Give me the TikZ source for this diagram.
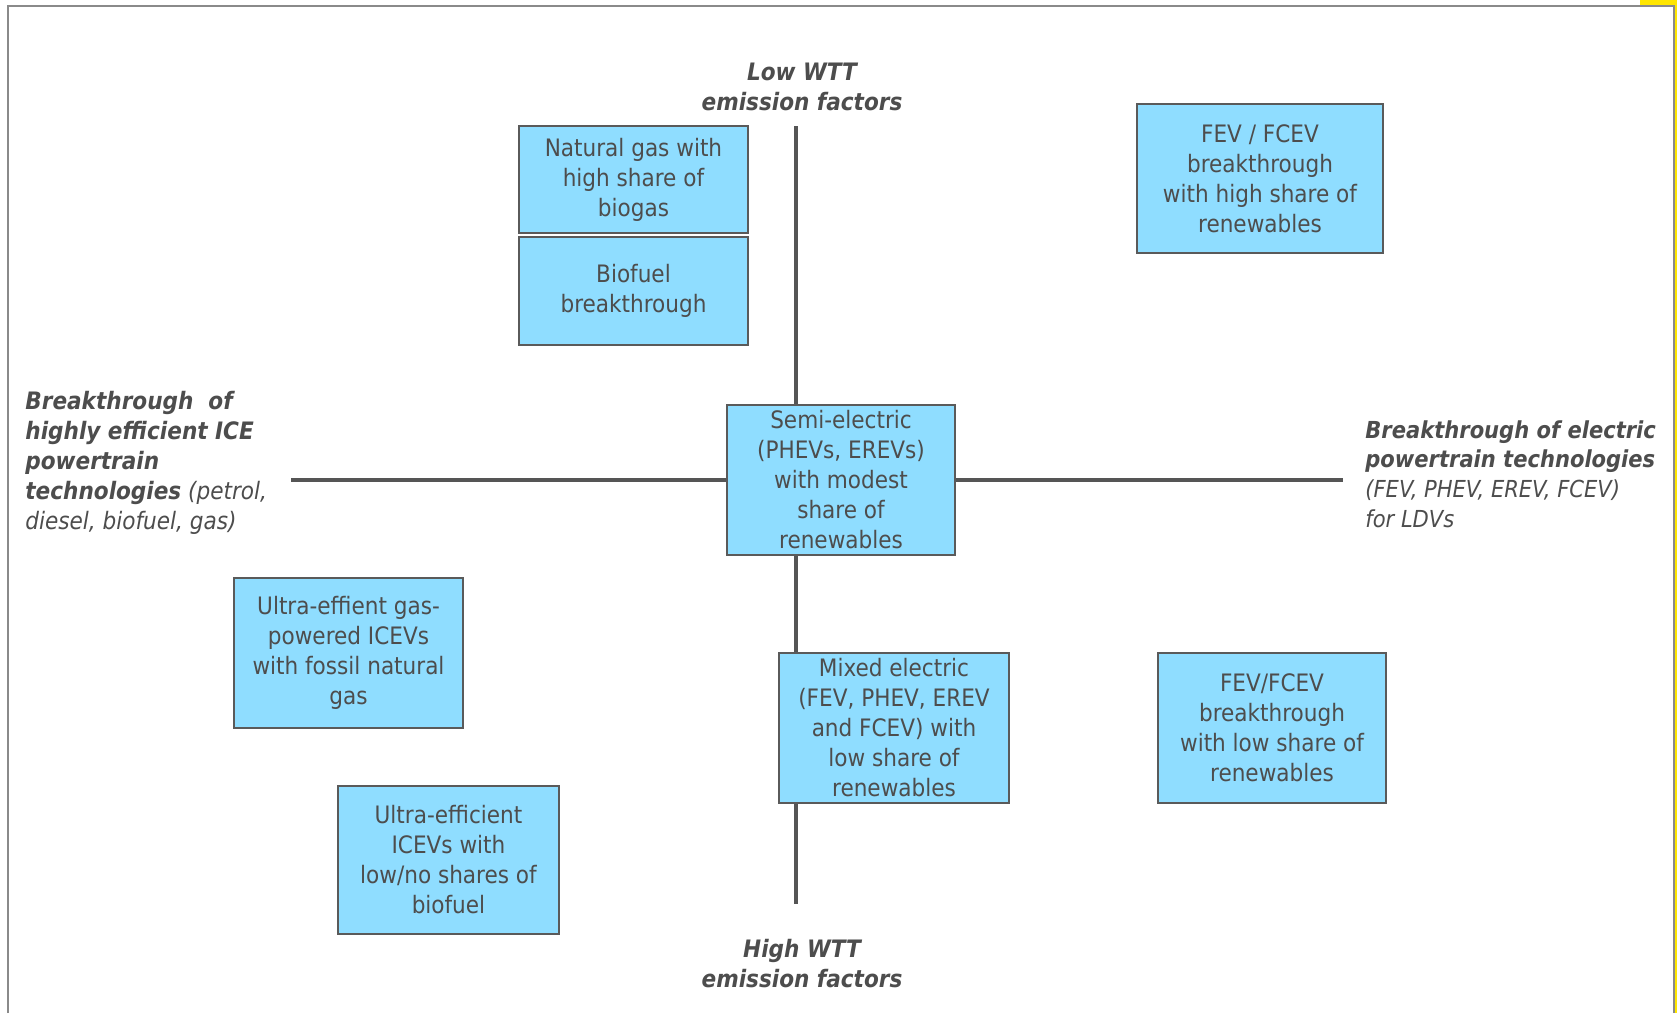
\documentclass[tikz,border=0pt]{standalone}
\usepackage{fontspec}
\setmainfont{DejaVu Sans Condensed}
\definecolor{boxfill}{RGB}{143,221,255}
\definecolor{boxline}{RGB}{90,90,90}
\definecolor{ink}{RGB}{77,77,77}
\definecolor{axisline}{RGB}{85,85,85}
\definecolor{frameline}{RGB}{138,138,138}
\definecolor{tabyellow}{RGB}{255,230,0}
\begin{document}
\begin{tikzpicture}[x=0.5pt,y=-0.5pt,
  card/.style={draw=boxline, fill=boxfill, line width=0.7pt, text=ink, align=center,
    font=\fontsize{12}{15}\selectfont, inner sep=0pt},
  axis/.style={draw=axisline, line width=1.6pt},
  lbl/.style={text=ink, font=\fontsize{12}{15}\selectfont\itshape, inner sep=0pt}
]
\useasboundingbox (0,0) rectangle (1677,1013);
\fill[white] (0,0) rectangle (1677,1013);

% page frame and corner tab
\fill[tabyellow] (1640,0) rectangle (1677,5);
\fill[tabyellow] (1675,0) rectangle (1677,1013);
\draw[frameline, line width=1pt] (8,1013) -- (8,6) -- (1674,6) -- (1674,1013);

% axis end points
\coordinate (axTop) at (796,126);
\coordinate (axBot) at (796,904);
\coordinate (axL) at (291,480);
\coordinate (axR) at (1343,480);
\draw[axis] (axTop) -- (axBot);
\draw[axis] (axL) -- (axR);

% axis labels
\node[lbl, align=center, font=\fontsize{12}{15}\selectfont\bfseries\itshape] (low) at (802,87)
  {Low WTT\\emission factors};
\node[lbl, align=center, font=\fontsize{12}{15}\selectfont\bfseries\itshape] (high) at (802,964)
  {High WTT\\emission factors};
\node[lbl, align=left, anchor=west] (ice) at (25,463)
  {\textbf{Breakthrough\ \ of}\\\textbf{highly efficient ICE}\\\textbf{powertrain}\\\textbf{technologies} (petrol,\\diesel, biofuel, gas)};
\node[lbl, align=left, anchor=west, font=\fontsize{11.7}{14.8}\selectfont\itshape] (elec) at (1365,474)
  {\textbf{Breakthrough of electric}\\\textbf{powertrain technologies}\\(FEV, PHEV, EREV, FCEV)\\for LDVs};

% scenario boxes
\node[card, minimum width=114.5pt, minimum height=53.5pt] (natgas) at (633.5,179.5)
  {Natural gas with\\high share of\\biogas};
\node[card, minimum width=114.5pt, minimum height=54pt] (biofuel) at (633.5,291)
  {Biofuel\\breakthrough};
\node[card, minimum width=123pt, minimum height=74.5pt] (fevhigh) at (1260,178.5)
  {FEV / FCEV\\breakthrough\\with high share of\\renewables};
\node[card, minimum width=114pt, minimum height=75pt] (semi) at (841,480)
  {Semi-electric\\(PHEVs, EREVs)\\with modest\\share of\\renewables};
\node[card, minimum width=114.5pt, minimum height=75pt] (ultragas) at (348.5,653)
  {Ultra-effient gas-\\powered ICEVs\\with fossil natural\\gas};
\node[card, minimum width=115pt, minimum height=75pt] (mixed) at (894,728)
  {Mixed electric\\(FEV, PHEV, EREV\\and FCEV) with\\low share of\\renewables};
\node[card, minimum width=114pt, minimum height=75pt] (fevlow) at (1272,728)
  {FEV/FCEV\\breakthrough\\with low share of\\renewables};
\node[card, minimum width=110.5pt, minimum height=74pt] (ultraice) at (448.5,860)
  {Ultra-efficient\\ICEVs with\\low/no shares of\\biofuel};
\end{tikzpicture}
\end{document}
